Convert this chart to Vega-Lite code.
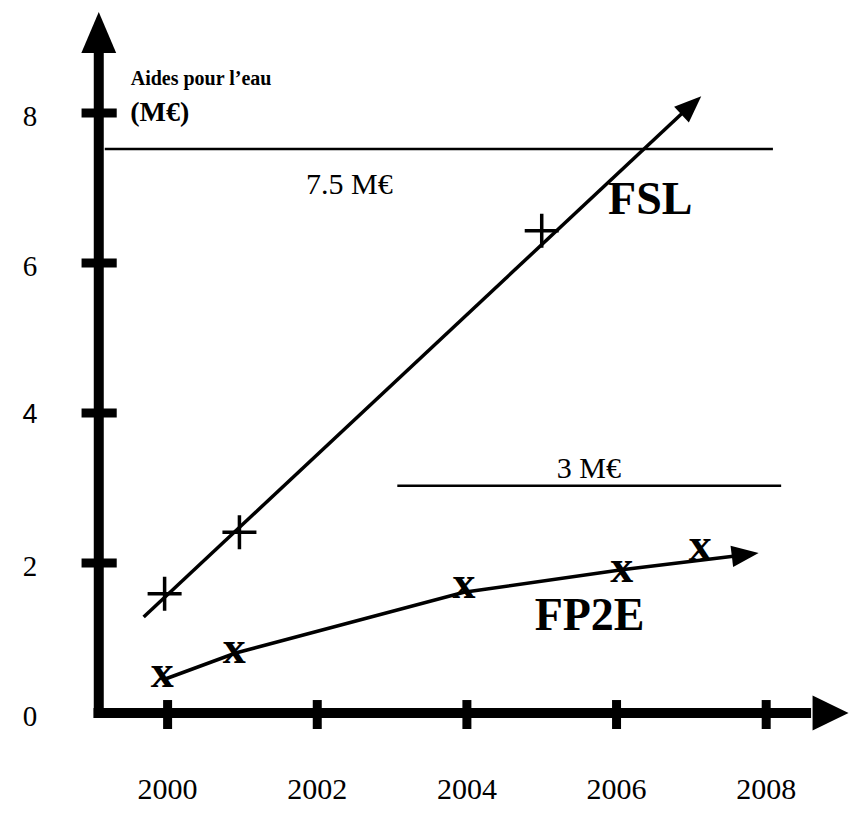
{
  "$schema": "https://vega.github.io/schema/vega-lite/v6.json",
  "width": 849,
  "height": 825,
  "padding": 0,
  "autosize": {"type": "fit", "contains": "padding"},
  "background": "white",
  "config": {"view": {"stroke": null}},
  "datasets": {
    "axes": [
      {"axis": "y", "x": 1999.08, "y": -0.067, "x2": 1999.08, "y2": 8.8},
      {"axis": "x", "x": 1999.01, "y": 0, "x2": 2008.6, "y2": 0}
    ],
    "yticks": [{"value": 0}, {"value": 2}, {"value": 4}, {"value": 6}, {"value": 8}],
    "xticks": [{"year": 2000}, {"year": 2002}, {"year": 2004}, {"year": 2006}, {"year": 2008}],
    "refs": [
      {"label": "7.5 M€", "level": 7.52, "start": 1999.16, "end": 2008.09},
      {"label": "3 M€", "level": 3.03, "start": 2003.07, "end": 2008.2}
    ],
    "lines": [
      {"series": "FSL", "year": 1999.68, "value": 1.28},
      {"series": "FSL", "year": 2006.87, "value": 7.99},
      {"series": "FP2E", "year": 1999.96, "value": 0.45},
      {"series": "FP2E", "year": 2000.91, "value": 0.8},
      {"series": "FP2E", "year": 2003.96, "value": 1.61},
      {"series": "FP2E", "year": 2006.07, "value": 1.91},
      {"series": "FP2E", "year": 2007.56, "value": 2.09}
    ],
    "points": [
      {"series": "FSL", "year": 1999.96, "value": 1.59},
      {"series": "FSL", "year": 2000.96, "value": 2.41},
      {"series": "FSL", "year": 2005.0, "value": 6.43},
      {"series": "FP2E", "year": 1999.93, "value": 0.48},
      {"series": "FP2E", "year": 2000.89, "value": 0.8},
      {"series": "FP2E", "year": 2003.96, "value": 1.67},
      {"series": "FP2E", "year": 2006.07, "value": 1.88},
      {"series": "FP2E", "year": 2007.12, "value": 2.17}
    ],
    "arrows": [
      {"series": "FSL", "year": 2007.0, "value": 8.1},
      {"series": "FP2E", "year": 2007.72, "value": 2.11}
    ],
    "names": [
      {"series": "FSL", "year": 2006.45, "value": 6.65},
      {"series": "FP2E", "year": 2005.64, "value": 1.11}
    ],
    "titles": [
      {"line": 1, "text": "Aides pour l’eau"},
      {"line": 2, "text": "(M€)"}
    ]
  },
  "layer": [
    {
      "data": {"name": "axes"},
      "mark": {"type": "rule", "color": "black", "strokeWidth": 10, "strokeCap": "butt"},
      "encoding": {
        "x": {"field": "x", "type": "quantitative", "scale": {"domain": [1997.76, 2009.08], "nice": false, "zero": false}, "axis": null},
        "x2": {"field": "x2"},
        "y": {"field": "y", "type": "quantitative", "scale": {"domain": [-1.4933, 9.5067], "nice": false, "zero": false}, "axis": null},
        "y2": {"field": "y2"}
      }
    },
    {
      "data": {"name": "axes"},
      "transform": [{"filter": "datum.axis == 'y'"}],
      "mark": {"type": "point", "shape": "M0,-1L0.85,1L-0.85,1Z", "filled": true, "color": "black", "opacity": 1, "size": 1681},
      "encoding": {
        "x": {"field": "x", "type": "quantitative", "scale": {"domain": [1997.76, 2009.08], "nice": false, "zero": false}, "axis": null},
        "y": {"datum": 9.073, "type": "quantitative", "scale": {"domain": [-1.4933, 9.5067], "nice": false, "zero": false}, "axis": null}
      }
    },
    {
      "data": {"name": "axes"},
      "transform": [{"filter": "datum.axis == 'x'"}],
      "mark": {"type": "point", "shape": "M1,0L-1,-0.97L-1,0.97Z", "filled": true, "color": "black", "opacity": 1, "size": 1296},
      "encoding": {
        "x": {"datum": 2008.86, "type": "quantitative", "scale": {"domain": [1997.76, 2009.08], "nice": false, "zero": false}, "axis": null},
        "y": {"field": "y", "type": "quantitative", "scale": {"domain": [-1.4933, 9.5067], "nice": false, "zero": false}, "axis": null}
      }
    },
    {
      "data": {"name": "yticks"},
      "transform": [{"filter": "datum.value > 0"}],
      "mark": {"type": "rule", "color": "black", "strokeWidth": 9, "strokeCap": "butt"},
      "encoding": {
        "x": {"datum": 1998.85, "type": "quantitative", "scale": {"domain": [1997.76, 2009.08], "nice": false, "zero": false}, "axis": null},
        "x2": {"datum": 1999.32},
        "y": {"field": "value", "type": "quantitative", "scale": {"domain": [-1.4933, 9.5067], "nice": false, "zero": false}, "axis": null}
      }
    },
    {
      "data": {"name": "xticks"},
      "mark": {"type": "rule", "color": "black", "strokeWidth": 9, "strokeCap": "butt"},
      "encoding": {
        "x": {"field": "year", "type": "quantitative", "scale": {"domain": [1997.76, 2009.08], "nice": false, "zero": false}, "axis": null},
        "y": {"datum": 0.173, "type": "quantitative", "scale": {"domain": [-1.4933, 9.5067], "nice": false, "zero": false}, "axis": null},
        "y2": {"datum": -0.213}
      }
    },
    {
      "data": {"name": "yticks"},
      "transform": [{"filter": "datum.value != 4"}],
      "mark": {"type": "text", "font": "Liberation Serif", "fontSize": 29, "align": "center", "baseline": "middle", "dy": 4, "color": "black"},
      "encoding": {
        "x": {"datum": 1998.16, "type": "quantitative", "scale": {"domain": [1997.76, 2009.08], "nice": false, "zero": false}, "axis": null},
        "y": {"field": "value", "type": "quantitative", "scale": {"domain": [-1.4933, 9.5067], "nice": false, "zero": false}, "axis": null},
        "text": {"field": "value", "type": "quantitative"}
      }
    },
    {
      "data": {"name": "yticks"},
      "transform": [{"filter": "datum.value == 4"}],
      "mark": {"type": "text", "font": "Liberation Sans", "fontSize": 27, "align": "center", "baseline": "middle", "dy": 2, "color": "black"},
      "encoding": {
        "x": {"datum": 1998.16, "type": "quantitative", "scale": {"domain": [1997.76, 2009.08], "nice": false, "zero": false}, "axis": null},
        "y": {"field": "value", "type": "quantitative", "scale": {"domain": [-1.4933, 9.5067], "nice": false, "zero": false}, "axis": null},
        "text": {"field": "value", "type": "quantitative"}
      }
    },
    {
      "data": {"name": "xticks"},
      "mark": {"type": "text", "font": "Liberation Serif", "fontSize": 30, "align": "center", "baseline": "middle", "color": "black"},
      "encoding": {
        "x": {"field": "year", "type": "quantitative", "scale": {"domain": [1997.76, 2009.08], "nice": false, "zero": false}, "axis": null},
        "y": {"datum": -1.03, "type": "quantitative", "scale": {"domain": [-1.4933, 9.5067], "nice": false, "zero": false}, "axis": null},
        "text": {"field": "year", "type": "quantitative", "format": "d"}
      }
    },
    {
      "data": {"name": "refs"},
      "mark": {"type": "rule", "color": "black", "strokeWidth": 2.5},
      "encoding": {
        "x": {"field": "start", "type": "quantitative", "scale": {"domain": [1997.76, 2009.08], "nice": false, "zero": false}, "axis": null},
        "x2": {"field": "end"},
        "y": {"field": "level", "type": "quantitative", "scale": {"domain": [-1.4933, 9.5067], "nice": false, "zero": false}, "axis": null}
      }
    },
    {
      "data": {"name": "refs"},
      "transform": [{"filter": "datum.level > 5"}],
      "mark": {"type": "text", "font": "Liberation Serif", "fontSize": 30, "align": "center", "baseline": "middle", "dy": 36, "color": "black"},
      "encoding": {
        "x": {"datum": 2002.43, "type": "quantitative", "scale": {"domain": [1997.76, 2009.08], "nice": false, "zero": false}, "axis": null},
        "y": {"field": "level", "type": "quantitative", "scale": {"domain": [-1.4933, 9.5067], "nice": false, "zero": false}, "axis": null},
        "text": {"field": "label"}
      }
    },
    {
      "data": {"name": "refs"},
      "transform": [{"filter": "datum.level < 5"}],
      "mark": {"type": "text", "font": "Liberation Serif", "fontSize": 30, "align": "center", "baseline": "middle", "dy": -17, "color": "black"},
      "encoding": {
        "x": {"datum": 2005.63, "type": "quantitative", "scale": {"domain": [1997.76, 2009.08], "nice": false, "zero": false}, "axis": null},
        "y": {"field": "level", "type": "quantitative", "scale": {"domain": [-1.4933, 9.5067], "nice": false, "zero": false}, "axis": null},
        "text": {"field": "label"}
      }
    },
    {
      "data": {"name": "lines"},
      "mark": {"type": "line", "color": "black", "strokeWidth": 3.5},
      "encoding": {
        "x": {"field": "year", "type": "quantitative", "scale": {"domain": [1997.76, 2009.08], "nice": false, "zero": false}, "axis": null},
        "y": {"field": "value", "type": "quantitative", "scale": {"domain": [-1.4933, 9.5067], "nice": false, "zero": false}, "axis": null},
        "detail": {"field": "series"}
      }
    },
    {
      "data": {"name": "arrows"},
      "transform": [{"filter": "datum.series == 'FSL'"}],
      "mark": {"type": "point", "shape": "M0,-1L0.8,1L-0.8,1Z", "filled": true, "color": "black", "opacity": 1, "size": 729, "angle": 47},
      "encoding": {
        "x": {"field": "year", "type": "quantitative", "scale": {"domain": [1997.76, 2009.08], "nice": false, "zero": false}, "axis": null},
        "y": {"field": "value", "type": "quantitative", "scale": {"domain": [-1.4933, 9.5067], "nice": false, "zero": false}, "axis": null}
      }
    },
    {
      "data": {"name": "arrows"},
      "transform": [{"filter": "datum.series == 'FP2E'"}],
      "mark": {"type": "point", "shape": "M0,-1L0.8,1L-0.8,1Z", "filled": true, "color": "black", "opacity": 1, "size": 729, "angle": 83},
      "encoding": {
        "x": {"field": "year", "type": "quantitative", "scale": {"domain": [1997.76, 2009.08], "nice": false, "zero": false}, "axis": null},
        "y": {"field": "value", "type": "quantitative", "scale": {"domain": [-1.4933, 9.5067], "nice": false, "zero": false}, "axis": null}
      }
    },
    {
      "data": {"name": "points"},
      "transform": [{"filter": "datum.series == 'FSL'"}],
      "mark": {"type": "point", "shape": "M-1,0L1,0M0,-1L0,1", "filled": false, "stroke": "black", "strokeWidth": 3.5, "opacity": 1, "size": 1156},
      "encoding": {
        "x": {"field": "year", "type": "quantitative", "scale": {"domain": [1997.76, 2009.08], "nice": false, "zero": false}, "axis": null},
        "y": {"field": "value", "type": "quantitative", "scale": {"domain": [-1.4933, 9.5067], "nice": false, "zero": false}, "axis": null}
      }
    },
    {
      "data": {"name": "points"},
      "transform": [{"filter": "datum.series == 'FP2E'"}],
      "mark": {"type": "text", "text": "x", "font": "Liberation Serif", "fontWeight": "bold", "fontSize": 46, "align": "center", "baseline": "alphabetic", "dy": 10, "color": "black"},
      "encoding": {
        "x": {"field": "year", "type": "quantitative", "scale": {"domain": [1997.76, 2009.08], "nice": false, "zero": false}, "axis": null},
        "y": {"field": "value", "type": "quantitative", "scale": {"domain": [-1.4933, 9.5067], "nice": false, "zero": false}, "axis": null}
      }
    },
    {
      "data": {"name": "names"},
      "mark": {"type": "text", "font": "Liberation Serif", "fontWeight": "bold", "fontSize": 46, "align": "center", "baseline": "alphabetic", "color": "black"},
      "encoding": {
        "x": {"field": "year", "type": "quantitative", "scale": {"domain": [1997.76, 2009.08], "nice": false, "zero": false}, "axis": null},
        "y": {"field": "value", "type": "quantitative", "scale": {"domain": [-1.4933, 9.5067], "nice": false, "zero": false}, "axis": null},
        "text": {"field": "series"}
      }
    },
    {
      "data": {"name": "titles"},
      "transform": [{"filter": "datum.line == 1"}],
      "mark": {"type": "text", "font": "Liberation Serif", "fontWeight": "bold", "fontSize": 20, "align": "left", "baseline": "alphabetic", "color": "black"},
      "encoding": {
        "x": {"datum": 1999.507, "type": "quantitative", "scale": {"domain": [1997.76, 2009.08], "nice": false, "zero": false}, "axis": null},
        "y": {"datum": 8.37, "type": "quantitative", "scale": {"domain": [-1.4933, 9.5067], "nice": false, "zero": false}, "axis": null},
        "text": {"field": "text"}
      }
    },
    {
      "data": {"name": "titles"},
      "transform": [{"filter": "datum.line == 2"}],
      "mark": {"type": "text", "font": "Liberation Serif", "fontWeight": "bold", "fontSize": 28, "align": "left", "baseline": "alphabetic", "color": "black"},
      "encoding": {
        "x": {"datum": 1999.5, "type": "quantitative", "scale": {"domain": [1997.76, 2009.08], "nice": false, "zero": false}, "axis": null},
        "y": {"datum": 7.9, "type": "quantitative", "scale": {"domain": [-1.4933, 9.5067], "nice": false, "zero": false}, "axis": null},
        "text": {"field": "text"}
      }
    }
  ]
}
